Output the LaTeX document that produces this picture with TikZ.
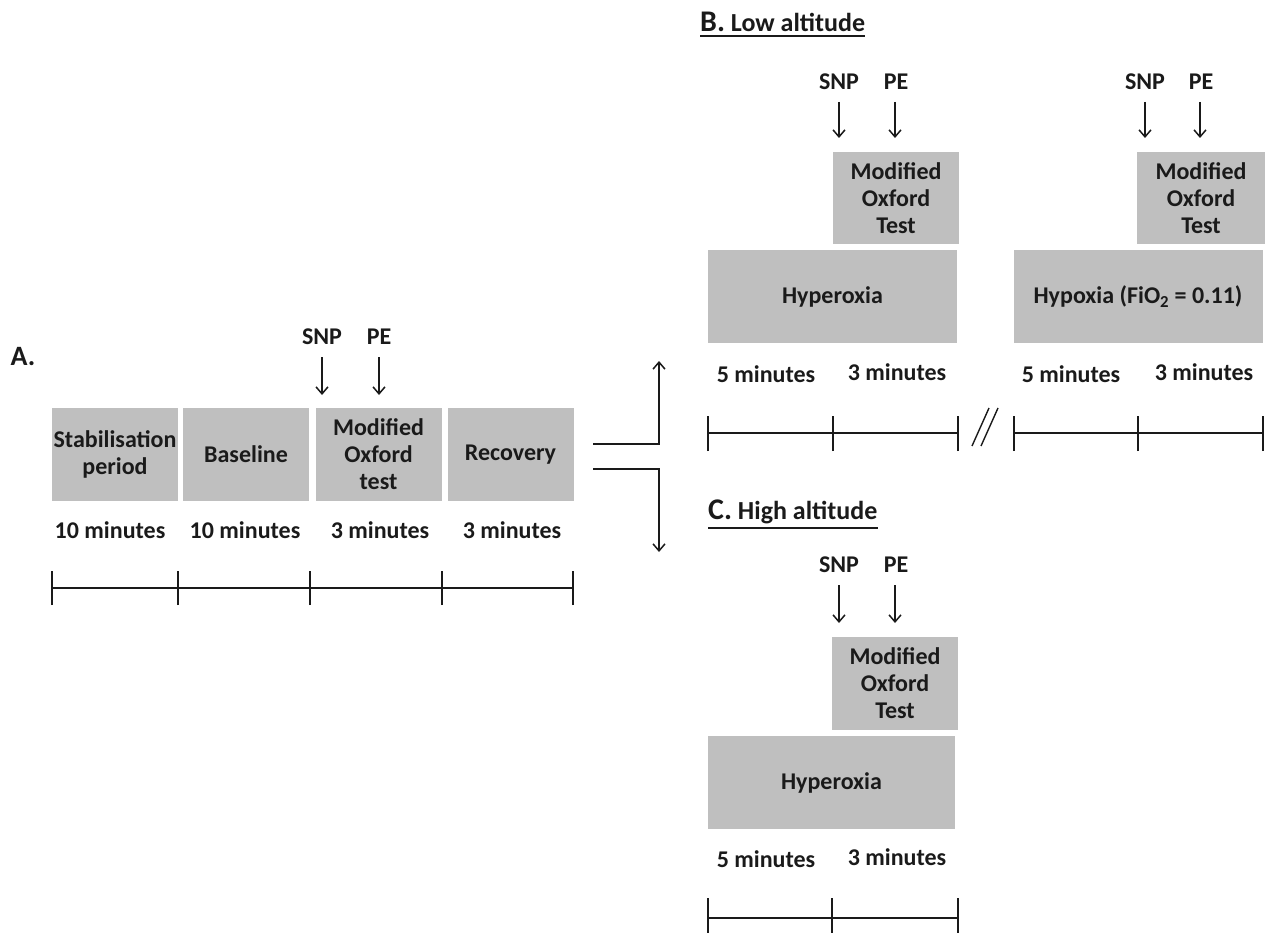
\documentclass[tikz,border=0pt]{standalone}
\usepackage{fontspec}
\setmainfont{Carlito}
\usetikzlibrary{arrows.meta}
\definecolor{boxgray}{HTML}{BFBFBF}
\definecolor{ink}{HTML}{1A1A1A}
\begin{document}
\begin{tikzpicture}[x=1pt,y=-1pt,
  txt/.style={font=\bfseries\fontsize{24}{27}\selectfont, text=ink, inner sep=0, align=center},
  ttl/.style={font=\bfseries\fontsize{26}{30}\selectfont, text=ink, inner sep=0, anchor=west},
  box/.style={txt, fill=boxgray, minimum width=#1},
  box/.default=126,
  arr/.style={line width=1.5, draw=ink, -{Straight Barb[length=7,width=12,line width=1.5]}},
  ln/.style={line width=1.5, draw=ink},
  tick/.style={line width=1.5, draw=ink}
]
\useasboundingbox (0,0) rectangle (1268,933);

% ---------- Panel A ----------
\node[font=\bfseries\fontsize{28}{32}\selectfont, text=ink, inner sep=0] (lA) at (23,357) {A.};
\node[txt] (snpA) at (322,337) {SNP};
\node[txt] (peA) at (379,337) {PE};
\node[box, minimum height=93] (a1) at (115,454.5) {Stabilisation\\period};
\node[box, minimum height=93] (a2) at (246,454.5) {Baseline};
\node[box, minimum height=93] (a3) at (378.5,454.5) {Modified\\Oxford\\test};
\node[box, minimum height=93] (a4) at (510.5,454.5) {Recovery};
\coordinate (aS) at (322,357); \coordinate (aSe) at (322,395);
\coordinate (aP) at (379,357); \coordinate (aPe) at (379,395);
\draw[arr] (aS) -- (aSe);
\draw[arr] (aP) -- (aPe);
\node[txt] (d1) at (110,530) {10 minutes};
\node[txt] (d2) at (245,530) {10 minutes};
\node[txt] (d3) at (380,530) {3 minutes};
\node[txt] (d4) at (512,530) {3 minutes};
\coordinate (t0) at (52,588); \coordinate (t1) at (178,588);
\coordinate (t2) at (310,588); \coordinate (t3) at (442,588);
\coordinate (t4) at (573,588);
\draw[ln] (t0) -- (t4);
\foreach \p in {t0,t1,t2,t3,t4} \draw[tick] ([yshift=-17]\p) -- ([yshift=17]\p);
% branch connectors
\coordinate (bu0) at (593,444); \coordinate (bu1) at (659,444); \coordinate (bu2) at (659,361);
\coordinate (bd0) at (593,469); \coordinate (bd1) at (659,469); \coordinate (bd2) at (659,552);
\draw[arr] (bu0) -- (bu1) -- (bu2);
\draw[arr] (bd0) -- (bd1) -- (bd2);

% ---------- Panel B ----------
\node[ttl] (tB) at (700,22) {\fontsize{30}{32}\selectfont B.\fontsize{26}{30}\selectfont{} Low altitude};
\draw[line width=1.5, draw=ink] ([yshift=-4]tB.south west) -- ([yshift=-4]tB.south east);
% left group
\node[txt] (snpB1) at (839,82) {SNP};
\node[txt] (peB1) at (896,82) {PE};
\coordinate (b1S) at (839,102); \coordinate (b1Se) at (839,138);
\coordinate (b1P) at (895,102); \coordinate (b1Pe) at (895,138);
\draw[arr] (b1S) -- (b1Se);
\draw[arr] (b1P) -- (b1Pe);
\node[box, minimum height=92] (mB1) at (896,198) {Modified\\Oxford\\Test};
\node[box=249, minimum height=93] (hB1) at (832.5,296.5) {Hyperoxia};
\node[txt] (dB11) at (766,374) {5 minutes};
\node[txt] (dB12) at (897,372) {3 minutes};
\coordinate (u0) at (708,433); \coordinate (u1) at (833,433); \coordinate (u2) at (958,433);
\draw[ln] (u0) -- (u2);
\foreach \p in {u0,u1,u2} \draw[tick] ([yshift=-18]\p) -- ([yshift=17]\p);
% break marks
\coordinate (s1a) at (972,446); \coordinate (s1b) at (989,408);
\coordinate (s2a) at (981,446); \coordinate (s2b) at (998,408);
\draw[line width=1.4, draw=ink] (s1a) -- (s1b);
\draw[line width=1.4, draw=ink] (s2a) -- (s2b);
% right group
\node[txt] (snpB2) at (1145,82) {SNP};
\node[txt] (peB2) at (1201,82) {PE};
\coordinate (b2S) at (1145,102); \coordinate (b2Se) at (1145,138);
\coordinate (b2P) at (1200,102); \coordinate (b2Pe) at (1200,138);
\draw[arr] (b2S) -- (b2Se);
\draw[arr] (b2P) -- (b2Pe);
\node[box=128, minimum height=92] (mB2) at (1201,198) {Modified\\Oxford\\Test};
\node[box=249, minimum height=93] (hB2) at (1138,296.5) {Hypoxia (FiO\textsubscript{2} = 0.11)};
\node[txt] (dB21) at (1071,374) {5 minutes};
\node[txt] (dB22) at (1204,372) {3 minutes};
\coordinate (v0) at (1014,433); \coordinate (v1) at (1138,433); \coordinate (v2) at (1263,433);
\draw[ln] (v0) -- (v2);
\foreach \p in {v0,v1,v2} \draw[tick] ([yshift=-18]\p) -- ([yshift=17]\p);

% ---------- Panel C ----------
\node[ttl] (tC) at (708,512) {\fontsize{30}{32}\selectfont C.\fontsize{26}{30}\selectfont{} High altitude};
\draw[line width=1.5, draw=ink] ([yshift=-4]tC.south west) -- ([yshift=-4]tC.south east);
\node[txt] (snpC) at (839,565) {SNP};
\node[txt] (peC) at (896,565) {PE};
\coordinate (cS) at (839,585); \coordinate (cSe) at (839,623);
\coordinate (cP) at (895,585); \coordinate (cPe) at (895,623);
\draw[arr] (cS) -- (cSe);
\draw[arr] (cP) -- (cPe);
\node[box, minimum height=93] (mC) at (895,683.5) {Modified\\Oxford\\Test};
\node[box=247, minimum height=93] (hC) at (831.5,782.5) {Hyperoxia};
\node[txt] (dC1) at (766,859) {5 minutes};
\node[txt] (dC2) at (897,857) {3 minutes};
\coordinate (w0) at (708,918); \coordinate (w1) at (832,918); \coordinate (w2) at (958,918);
\draw[ln] (w0) -- (w2);
\foreach \p in {w0,w1,w2} \draw[tick] ([yshift=-19]\p) -- ([yshift=20]\p);
\end{tikzpicture}
\end{document}
